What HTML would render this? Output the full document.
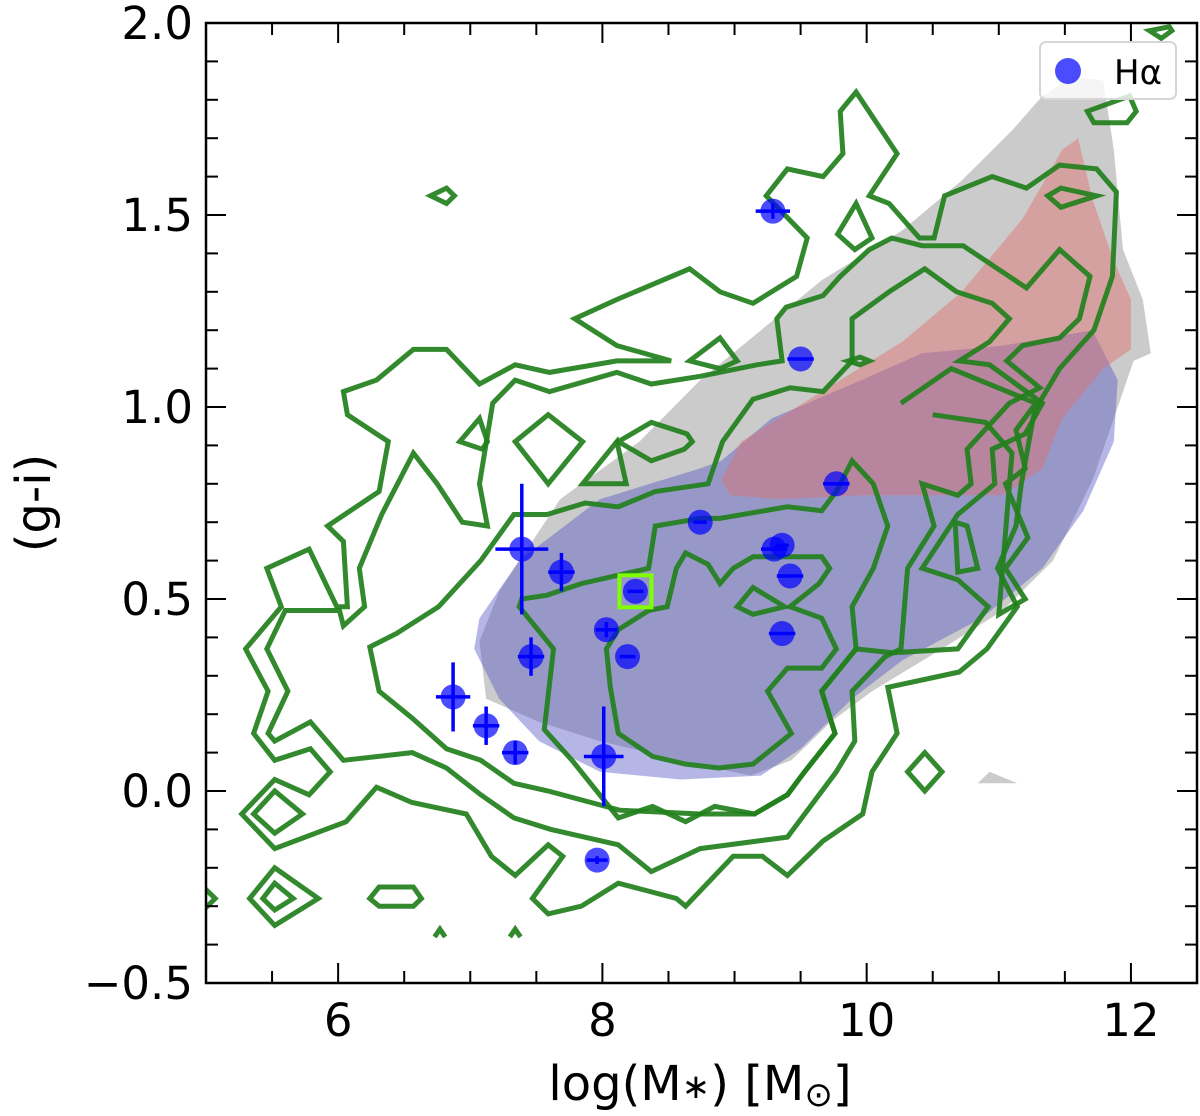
<!DOCTYPE html>
<html><head><meta charset="utf-8"><style>
html,body{margin:0;padding:0;background:#fff;}
svg{display:block;font-family:"DejaVu Sans","Liberation Sans",sans-serif;}
</style></head><body>
<svg id="chart" width="1200" height="1116" viewBox="0 0 1200 1116" xmlns="http://www.w3.org/2000/svg">
<defs><clipPath id="plotclip"><rect x="206" y="23" width="991" height="960"/></clipPath></defs>
<rect x="0" y="0" width="1200" height="1116" fill="#fff"/>
<g id="regions" clip-path="url(#plotclip)"></g>
<g id="contours" clip-path="url(#plotclip)"></g>
<g id="points"></g>
<g id="axes"></g>
<g>
<rect x="1040" y="42" width="136" height="57" rx="6" fill="rgba(255,255,255,0.8)" stroke="#d6d6d6" stroke-width="2"/>
<circle cx="1068" cy="71" r="13" fill="rgba(0,0,255,0.7)"/>
<text x="1114" y="84" font-size="34" fill="#000">Hα</text>
</g>
<text x="700" y="1100" font-size="48" text-anchor="middle" fill="#000">log(M<tspan font-size="34" dy="-2">∗</tspan><tspan dy="2">) [M</tspan><tspan font-size="34" dy="6">⊙</tspan><tspan dy="-6">]</tspan></text>
<text x="50" y="503" font-size="48" text-anchor="middle" fill="#000" transform="rotate(-90 50 503)">(g-i)</text>
</svg>
<script>
// ---- data ----
const xTicks = [6, 8, 10, 12];
const yTicks = [-0.5, 0.0, 0.5, 1.0, 1.5, 2.0];
const yTickLabels = ["\u22120.5", "0.0", "0.5", "1.0", "1.5", "2.0"];

const pointsX = [9.29, 9.50, 9.77, 8.74, 9.30, 9.36, 9.42, 9.36, 8.25, 8.03, 8.19, 7.39, 7.69, 7.46, 6.87, 7.12, 7.34, 8.01, 7.96];
const pointsY = [1.51, 1.125, 0.80, 0.70, 0.63, 0.64, 0.56, 0.41, 0.52, 0.42, 0.35, 0.63, 0.57, 0.35, 0.245, 0.17, 0.10, 0.09, -0.18];
const pointsXErr = [0.13, 0.1, 0.1, 0.05, 0.1, 0.05, 0.1, 0.1, 0.06, 0.08, 0.06, 0.2, 0.1, 0.1, 0.13, 0.1, 0.1, 0.15, 0.08];
const pointsYErr = [0.02, 0.0, 0.0, 0.0, 0.0, 0.0, 0.0, 0.0, 0.0, 0.02, 0.0, 0.17, 0.05, 0.05, 0.09, 0.05, 0.03, 0.13, 0.01];
const highlightIndex = 8;

const greyRegion = [[7.12,0.24],[7.07,0.39],[7.22,0.52],[7.68,0.76],[8.28,0.91],[8.74,1.07],[9.2,1.2],[9.66,1.33],[10.27,1.46],[10.72,1.59],[11.1,1.72],[11.33,1.81],[11.56,1.86],[11.79,1.85],[11.87,1.67],[11.94,1.41],[12.09,1.28],[12.15,1.14],[12.02,1.12],[11.87,0.97],[11.71,0.81],[11.41,0.6],[11.03,0.47],[10.57,0.37],[10.04,0.26],[9.73,0.18],[9.43,0.08],[9.12,0.04],[8.59,0.08],[7.98,0.13],[7.52,0.18]];
const greySpeck = [[10.84,0.02],[10.93,0.05],[11.14,0.02]];
const blueRegion = [[7.07,0.45],[7.37,0.6],[7.98,0.76],[8.74,0.84],[8.9,0.86],[9.28,0.97],[9.96,1.07],[10.42,1.14],[11.03,1.16],[11.71,1.2],[11.9,1.07],[11.87,0.91],[11.64,0.73],[11.33,0.58],[10.87,0.45],[10.27,0.34],[9.89,0.24],[9.5,0.11],[9.2,0.04],[8.59,0.03],[7.98,0.05],[7.52,0.13],[7.22,0.24],[7.03,0.37]];
const redRegion = [[8.9,0.81],[9.05,0.91],[9.66,1.04],[10.27,1.17],[10.72,1.3],[11.18,1.49],[11.48,1.67],[11.6,1.7],[11.71,1.54],[11.87,1.38],[12,1.28],[12,1.15],[11.79,1.1],[11.48,0.97],[11.33,0.84],[11.03,0.77],[10.57,0.77],[9.96,0.77],[9.35,0.76],[8.97,0.77]];

const contour1 = [[5.30,0.37],[5.57,0.48],[5.46,0.58],[5.78,0.63],[5.99,0.48],[6.07,0.48],[6.04,0.65],[5.92,0.69],[6.31,0.78],[6.38,0.91],[6.07,0.98],[6.04,1.04],[6.29,1.07],[6.57,1.15],[6.82,1.15],[7.07,1.06],[7.34,1.11],[7.60,1.09],[8.11,1.12],[8.52,1.12],[8.11,1.16],[7.79,1.23],[8.11,1.28],[8.66,1.36],[8.89,1.30],[9.14,1.27],[9.47,1.34],[9.55,1.44],[9.24,1.55],[9.40,1.62],[9.67,1.60],[9.82,1.66],[9.80,1.77],[9.92,1.82],[10.23,1.66],[10.02,1.55],[10.17,1.53],[10.40,1.44],[10.51,1.44],[10.59,1.55],[10.95,1.60],[11.21,1.57],[11.46,1.63],[11.74,1.62],[11.89,1.56],[11.86,1.34],[11.72,1.20],[11.46,1.10],[11.27,0.99],[11.17,0.80],[11.13,0.69],[10.99,0.58],[11.14,0.48],[10.91,0.37],[10.70,0.31],[10.16,0.27],[10.23,0.15],[10.04,0.05],[9.97,-0.06],[9.67,-0.13],[9.40,-0.22],[9.21,-0.17],[8.99,-0.17],[8.63,-0.30],[8.56,-0.28],[8.12,-0.24],[7.84,-0.30],[7.59,-0.32],[7.47,-0.28],[7.70,-0.17],[7.59,-0.14],[7.34,-0.22],[7.16,-0.17],[6.97,-0.06],[6.56,-0.03],[6.29,0.01],[6.06,-0.08],[5.52,-0.15],[5.27,-0.06],[5.52,0.03],[5.78,-0.01],[5.94,0.05],[5.79,0.11],[5.52,0.08],[5.36,0.15],[5.47,0.26]];
const contour2 = [[5.46,0.37],[5.60,0.47],[6.01,0.47],[6.04,0.43],[6.20,0.48],[6.16,0.58],[6.33,0.72],[6.57,0.88],[6.75,0.80],[6.94,0.70],[7.13,0.69],[7.07,0.80],[7.17,1.01],[7.34,1.07],[7.60,1.04],[8.11,1.09],[8.37,1.06],[8.74,1.08],[9.17,1.11],[9.36,1.12],[9.32,1.23],[9.39,1.26],[9.67,1.29],[9.80,1.34],[10.02,1.41],[10.19,1.44],[10.42,1.42],[10.73,1.42],[11.21,1.31],[11.46,1.41],[11.69,1.34],[11.61,1.23],[11.46,1.18],[11.18,1.16],[11.06,1.12],[11.31,1.05],[11.08,1.01],[10.76,0.89],[10.79,0.80],[10.69,0.77],[10.42,0.80],[10.51,0.69],[10.31,0.58],[10.26,0.37],[10.14,0.35],[9.89,0.26],[9.91,0.13],[9.77,0.05],[9.40,-0.12],[8.74,-0.15],[8.37,-0.21],[8.12,-0.14],[7.61,-0.10],[7.33,-0.07],[7.08,-0.01],[6.82,0.06],[6.56,0.10],[6.04,0.08],[5.79,0.18],[5.52,0.13],[5.47,0.15],[5.62,0.26]];
const contour3 = [[6.24,0.375],[6.44,0.41],[6.76,0.48],[7.08,0.60],[7.33,0.72],[7.58,0.72],[7.87,0.75],[8.12,0.74],[8.40,0.78],[8.80,0.80],[8.91,0.91],[9.14,1.02],[9.42,1.05],[9.67,1.04],[9.89,1.12],[9.89,1.23],[10.17,1.30],[10.44,1.36],[10.68,1.30],[10.95,1.27],[11.08,1.23],[10.93,1.17],[10.70,1.12],[10.93,1.11],[11.33,1.01],[11.20,0.93],[10.95,0.89],[10.97,0.80],[10.69,0.72],[10.42,0.58],[10.69,0.55],[10.92,0.48],[10.69,0.37],[10.20,0.36],[9.92,0.37],[9.66,0.26],[9.76,0.15],[9.53,0.05],[9.40,-0.01],[9.15,-0.06],[8.74,-0.06],[8.13,-0.05],[7.59,0.00],[7.33,0.02],[7.08,0.08],[6.82,0.11],[6.56,0.19],[6.31,0.26]];
const contour4 = [[7.37,0.48],[7.63,0.37],[7.56,0.16],[7.77,0.08],[8.12,-0.07],[8.38,-0.04],[8.63,-0.08],[8.85,-0.04],[9.15,-0.06],[9.40,-0.01],[9.53,0.05],[9.76,0.15],[9.66,0.26],[9.92,0.37],[9.89,0.48],[10.05,0.58],[10.16,0.69],[10.05,0.80],[9.89,0.86],[9.77,0.78],[9.66,0.73],[9.40,0.74],[8.89,0.71],[8.74,0.71],[8.40,0.69],[8.35,0.58],[7.84,0.54],[7.58,0.51],[7.39,0.50]];
const contour5 = [[8.03,0.37],[8.06,0.27],[8.12,0.15],[8.38,0.09],[8.63,0.07],[8.88,0.06],[9.14,0.07],[9.43,0.15],[9.25,0.26],[9.40,0.32],[9.66,0.32],[9.77,0.37],[9.66,0.45],[9.42,0.48],[9.64,0.54],[9.72,0.58],[9.66,0.61],[9.14,0.61],[8.99,0.58],[8.89,0.54],[8.80,0.59],[8.63,0.62],[8.56,0.58],[8.49,0.48],[8.35,0.47],[8.12,0.42]];
const contour6 = [[10.26,1.01],[10.64,1.10],[11.28,1.01],[11.13,0.94],[11.20,0.84],[11.05,0.80],[11.22,0.66],[11.05,0.58],[11.20,0.50],[11.00,0.46],[11.10,0.88],[10.90,0.96],[10.50,0.98]];
const loops = [
 [[9.02,0.48],[9.14,0.53],[9.38,0.48],[9.14,0.46]],
 [[11.37,1.55],[11.47,1.57],[11.74,1.55],[11.47,1.52]],
 [[6.70,1.55],[6.82,1.57],[6.88,1.55],[6.82,1.53]],
 [[6.92,0.91],[7.07,0.97],[7.13,0.91],[7.09,0.89]],
 [[7.34,0.91],[7.59,0.98],[7.85,0.91],[7.59,0.80]],
 [[7.85,0.80],[8.11,0.91],[8.18,0.80]],
 [[8.12,0.91],[8.37,0.96],[8.64,0.93],[8.68,0.91],[8.62,0.89],[8.37,0.86]],
 [[9.92,1.53],[10.04,1.44],[9.91,1.41],[9.78,1.45]],
 [[8.66,1.12],[8.89,1.18],[9.02,1.12],[8.89,1.10]],
 [[11.67,1.77],[11.99,1.81],[12.04,1.77],[11.97,1.74],[11.72,1.74]],
 [[12.14,1.98],[12.29,1.99],[12.31,1.98],[12.23,1.96]],
 [[10.67,0.70],[10.76,0.69],[10.84,0.58],[10.69,0.57]],
 [[10.31,0.05],[10.44,0.10],[10.57,0.05],[10.44,0.00]],
 [[5.36,-0.06],[5.52,0.00],[5.73,-0.06],[5.52,-0.11]],
 [[5.33,-0.28],[5.52,-0.20],[5.85,-0.28],[5.52,-0.35]],
 [[5.43,-0.28],[5.52,-0.24],[5.66,-0.28],[5.52,-0.31]],
 [[6.24,-0.28],[6.31,-0.25],[6.57,-0.25],[6.63,-0.28],[6.57,-0.30],[6.31,-0.30]],
 [[4.95,-0.24],[5.07,-0.28],[4.95,-0.32]],
 [[9.86,1.12],[9.95,1.13],[10.02,1.12],[9.95,1.11]]
];
const carets = [[[6.73,-0.38],[6.77,-0.36],[6.81,-0.38]],[[7.30,-0.38],[7.34,-0.36],[7.38,-0.38]]];

// ---- axis functions ----
const X0 = 206, X1 = 1197, Y0 = 983, Y1 = 23;
const xMin = 5, xMax = 12.5, yMin = -0.5, yMax = 2.0;
function sx(v){ return X0 + (v - xMin) / (xMax - xMin) * (X1 - X0); }
function sy(v){ return Y0 - (v - yMin) / (yMax - yMin) * (Y0 - Y1); }
const NS = "http://www.w3.org/2000/svg";
function mk(tag, parent){ const e = document.createElementNS(NS, tag); parent.appendChild(e); return e; }
function ptsStr(arr){ return arr.map(p => sx(p[0]).toFixed(1) + "," + sy(p[1]).toFixed(1)).join(" "); }

const regions = document.getElementById("regions");
const contours = document.getElementById("contours");
const pts = document.getElementById("points");
const axes = document.getElementById("axes");

function region(arr, fill, name){
  const p = mk("polygon", regions);
  p.setAttribute("points", ptsStr(arr));
  p.setAttribute("fill", fill);
  
  
}
region(greyRegion, "#cbcbcb", "grey-region");
region(greySpeck, "#cbcbcb", "grey-speck");
region(blueRegion, "rgba(80,80,195,0.42)", "blue-region");
region(redRegion, "rgba(223,110,108,0.45)", "red-region");

const GREEN = "rgba(34,128,28,0.92)";
function contour(arr, closed, name){
  const p = mk(closed ? "polygon" : "polyline", contours);
  p.setAttribute("points", ptsStr(arr));
  p.setAttribute("fill", "none");
  p.setAttribute("stroke", GREEN);
  p.setAttribute("stroke-width", "5");
  p.setAttribute("stroke-linejoin", "miter");
  
  
}
contour(contour1, true, "contour-level-1");
contour(contour2, true, "contour-level-2");
contour(contour3, true, "contour-level-3");
contour(contour4, true, "contour-level-4");
contour(contour5, true, "contour-level-5");
contour(contour6, false, "contour-level-6");
loops.forEach(function(l){ contour(l, true, "contour-loop"); });
carets.forEach(function(l){ contour(l, false, "contour-fragment"); });

// points + error bars
for (let i = 0; i < pointsX.length; i++){
  const cx = sx(pointsX[i]), cy = sy(pointsY[i]);
  const c = mk("circle", pts);
  c.setAttribute("cx", cx); c.setAttribute("cy", cy); c.setAttribute("r", 12.5);
  c.setAttribute("fill", "rgba(0,0,255,0.7)");
  
  
  if (pointsXErr[i] > 0){
    const l = mk("line", pts);
    l.setAttribute("x1", sx(pointsX[i] - pointsXErr[i])); l.setAttribute("x2", sx(pointsX[i] + pointsXErr[i]));
    l.setAttribute("y1", cy); l.setAttribute("y2", cy);
    l.setAttribute("stroke", "#0000ff"); l.setAttribute("stroke-width", "3.5");
    
    
  }
  if (pointsYErr[i] > 0){
    const l = mk("line", pts);
    l.setAttribute("y1", sy(pointsY[i] - pointsYErr[i])); l.setAttribute("y2", sy(pointsY[i] + pointsYErr[i]));
    l.setAttribute("x1", cx); l.setAttribute("x2", cx);
    l.setAttribute("stroke", "#0000ff"); l.setAttribute("stroke-width", "3.5");
    
    
  }
  if (i === highlightIndex){
    const r = mk("rect", pts);
    r.setAttribute("x", cx - 16); r.setAttribute("y", cy - 16); r.setAttribute("width", 32); r.setAttribute("height", 32);
    r.setAttribute("fill", "none"); r.setAttribute("stroke", "#7fff00"); r.setAttribute("stroke-width", "4");
    
    
  }
}

// axes frame
const frame = mk("rect", axes);
frame.setAttribute("x", X0); frame.setAttribute("y", Y1); frame.setAttribute("width", X1 - X0); frame.setAttribute("height", Y0 - Y1);
frame.setAttribute("fill", "none"); frame.setAttribute("stroke", "#000"); frame.setAttribute("stroke-width", "2.5");



function tick(x1, y1, x2, y2){
  const l = mk("line", axes);
  l.setAttribute("x1", x1); l.setAttribute("y1", y1); l.setAttribute("x2", x2); l.setAttribute("y2", y2);
  l.setAttribute("stroke", "#000"); l.setAttribute("stroke-width", "2");
  
  
}
for (let k = 11; k <= 24; k++){
  const v = k / 2; if (v <= xMin || v >= xMax) continue;
  const major = xTicks.indexOf(v) >= 0;
  const len = major ? 20 : 12;
  tick(sx(v), Y0, sx(v), Y0 - len);
  tick(sx(v), Y1, sx(v), Y1 + len);
}
for (let k = -4; k <= 19; k++){
  const v = k / 10;
  const major = Math.abs(v * 2 - Math.round(v * 2)) < 1e-6;
  const len = major ? 20 : 12;
  tick(X0, sy(v), X0 + len, sy(v));
  tick(X1, sy(v), X1 - len, sy(v));
}
xTicks.forEach(function(v){
  const t = mk("text", axes);
  t.setAttribute("x", sx(v)); t.setAttribute("y", 1036);
  t.setAttribute("font-size", "45"); t.setAttribute("text-anchor", "middle");
  t.textContent = String(v);
  
  
});
yTicks.forEach(function(v, i){
  const t = mk("text", axes);
  t.setAttribute("x", 193); t.setAttribute("y", sy(v) + 16);
  t.setAttribute("font-size", "45"); t.setAttribute("text-anchor", "end");
  t.textContent = yTickLabels[i];
  
  
});
</script>
</body></html>
